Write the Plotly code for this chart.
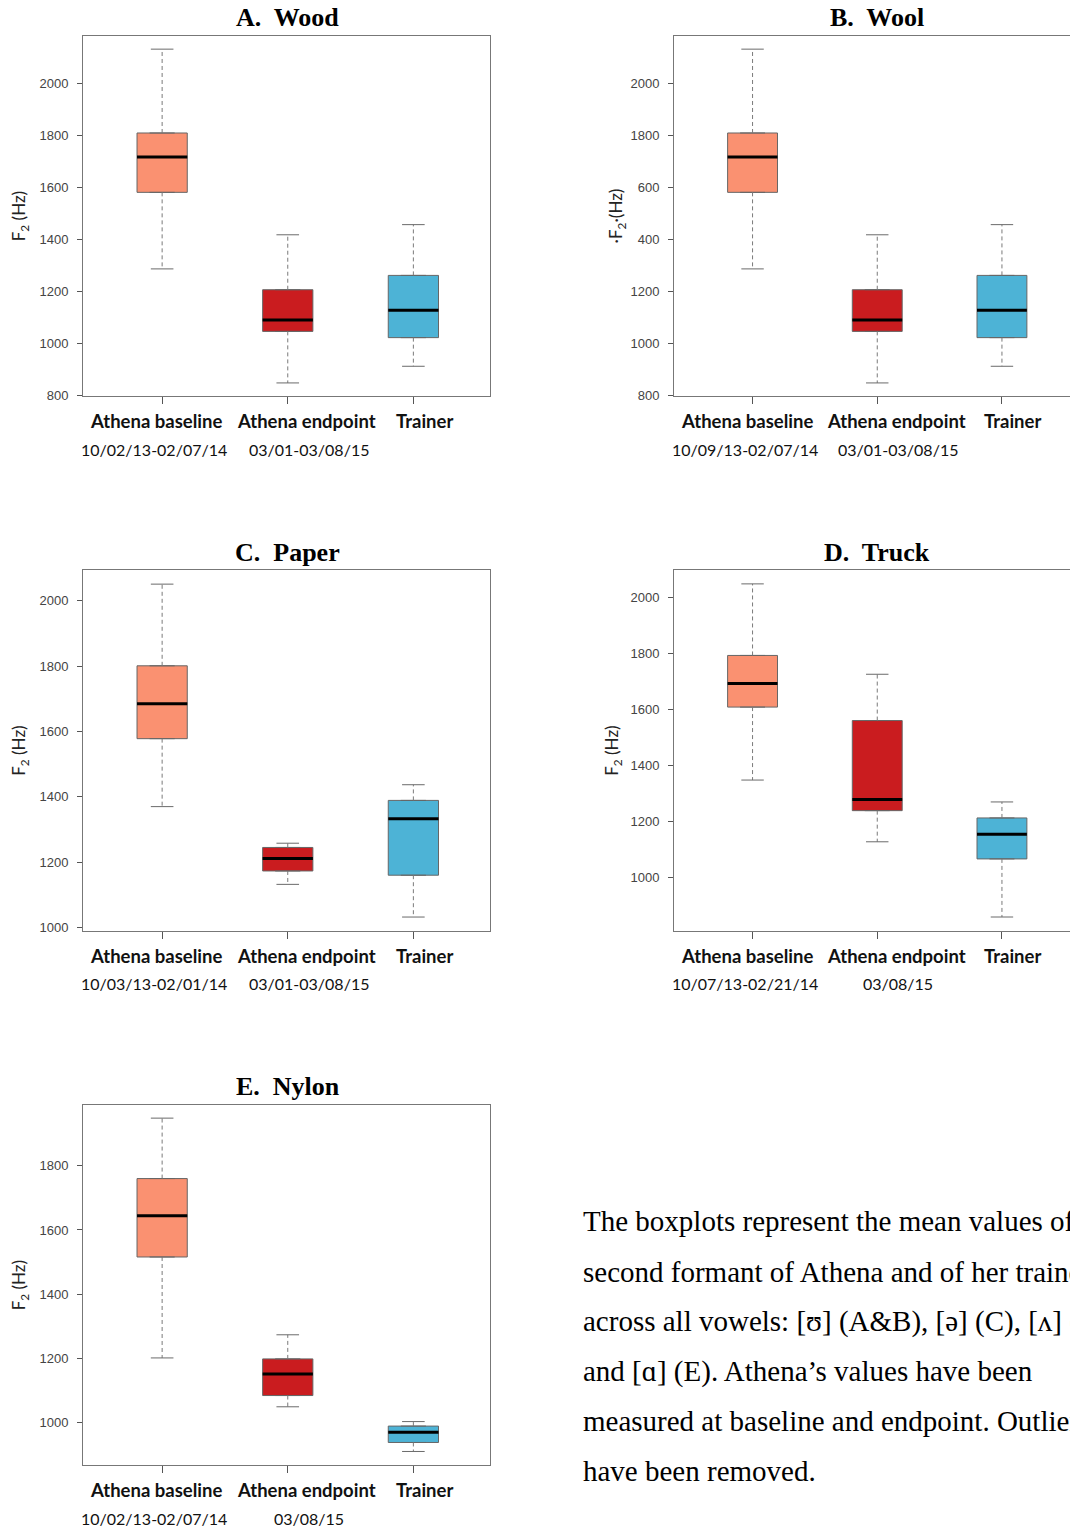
import plotly.graph_objects as go

# ---------------- data ----------------
groups = ["Athena baseline", "Athena endpoint", "Trainer"]
group_colors = ["#FA9171", "#CA1C1F", "#4DB3D6"]

panel_titles = ["A.  Wood", "B.  Wool", "C.  Paper", "D.  Truck", "E.  Nylon"]
panel_dates = [
    ["10/02/13-02/07/14", "03/01-03/08/15"],
    ["10/09/13-02/07/14", "03/01-03/08/15"],
    ["10/03/13-02/01/14", "03/01-03/08/15"],
    ["10/07/13-02/21/14", "03/08/15"],
    ["10/02/13-02/07/14", "03/08/15"],
]

# five-number summaries: [baseline, endpoint, trainer]
wood_lower = [1286, 848, 912]
wood_q1 = [1580, 1046, 1022]
wood_median = [1716, 1090, 1127]
wood_q3 = [1808, 1206, 1261]
wood_upper = [2130, 1417, 1456]

wool_lower = [1286, 848, 912]
wool_q1 = [1580, 1046, 1022]
wool_median = [1716, 1090, 1127]
wool_q3 = [1808, 1206, 1261]
wool_upper = [2130, 1417, 1456]

paper_lower = [1370, 1132, 1032]
paper_q1 = [1578, 1173, 1160]
paper_median = [1685, 1211, 1333]
paper_q3 = [1801, 1245, 1389]
paper_upper = [2051, 1258, 1437]

truck_lower = [1348, 1128, 860]
truck_q1 = [1608, 1239, 1067]
truck_median = [1692, 1279, 1155]
truck_q3 = [1792, 1560, 1213]
truck_upper = [2047, 1725, 1270]

nylon_lower = [1202, 1050, 911]
nylon_q1 = [1516, 1085, 939]
nylon_median = [1644, 1152, 971]
nylon_q3 = [1760, 1199, 990]
nylon_upper = [1948, 1274, 1004]

# y tick values / labels per panel (panel B prints truncated labels)
ab_tickvals = [800, 1000, 1200, 1400, 1600, 1800, 2000]
a_ticktext = ["800", "1000", "1200", "1400", "1600", "1800", "2000"]
b_ticktext = ["800", "1000", "1200", "400", "600", "1800", "2000"]
cd_tickvals = [1000, 1200, 1400, 1600, 1800, 2000]
cd_ticktext = ["1000", "1200", "1400", "1600", "1800", "2000"]
e_tickvals = [1000, 1200, 1400, 1600, 1800]
e_ticktext = ["1000", "1200", "1400", "1600", "1800"]

y_titles = ["F<sub>2</sub> (Hz)", "·F<sub>2</sub>·(Hz)", "F<sub>2</sub> (Hz)",
            "F<sub>2</sub> (Hz)", "F<sub>2</sub> (Hz)"]

caption_lines = [
    "The boxplots represent the mean values of the",
    "second formant of Athena and of her trainer",
    "across all vowels: [ʊ] (A&B), [ə] (C), [ʌ] (D)",
    "and [ɑ] (E). Athena’s values have been",
    "measured at baseline and endpoint. Outliers",
    "have been removed.",
]

# ---------------- layout geometry ----------------
# page places the figure at an 8px body margin; work in page pixels and shift
OFF = 8
PAGE_W, PAGE_H = 1078, 1537
W, H = PAGE_W - OFF, PAGE_H - OFF


def fx(px):
    return min(max((px - OFF) / W, 0.0), 1.0)


def fy(py):
    return min(max(1 - (py - OFF) / H, 0.0), 1.0)


panels = [
    dict(stats=(wood_lower, wood_q1, wood_median, wood_q3, wood_upper),
         xpx=(83, 490), ypx=(36, 398), yrange=(797, 2181),
         tickvals=ab_tickvals, ticktext=a_ticktext, mirror=True, standoff=12),
    dict(stats=(wool_lower, wool_q1, wool_median, wool_q3, wool_upper),
         xpx=(674, PAGE_W), ypx=(36, 398), yrange=(797, 2181),
         tickvals=ab_tickvals, ticktext=b_ticktext, mirror=False, standoff=3),
    dict(stats=(paper_lower, paper_q1, paper_median, paper_q3, paper_upper),
         xpx=(83, 490), ypx=(573, 935), yrange=(990, 2093),
         tickvals=cd_tickvals, ticktext=cd_ticktext, mirror=True, standoff=12),
    dict(stats=(truck_lower, truck_q1, truck_median, truck_q3, truck_upper),
         xpx=(674, PAGE_W), ypx=(573, 935), yrange=(811, 2095),
         tickvals=cd_tickvals, ticktext=cd_ticktext, mirror=False, standoff=7),
    dict(stats=(nylon_lower, nylon_q1, nylon_median, nylon_q3, nylon_upper),
         xpx=(83, 490), ypx=(1110, 1472), yrange=(868, 1989),
         tickvals=e_tickvals, ticktext=e_ticktext, mirror=True, standoff=12),
]

XRANGE = [-0.63, 2.61]
BOX_HALF = 0.2
CAP_HALF = 0.09
label_xshift = [-6, 19, 11]
date_xshift = [-8, 21]

fig = go.Figure()
annotations = []
layout_axes = {}

for k, p in enumerate(panels):
    n = k + 1
    xa = "x" if n == 1 else f"x{n}"
    ya = "y" if n == 1 else f"y{n}"
    lower, q1, med, q3, upper = p["stats"]
    for i, g in enumerate(groups):
        # box body
        fig.add_trace(go.Box(
            x=[i], q1=[q1[i]], median=[med[i]], q3=[q3[i]],
            lowerfence=[q1[i]], upperfence=[q3[i]],
            width=2 * BOX_HALF, fillcolor=group_colors[i],
            line=dict(color="#666666", width=1),
            boxpoints=False, xaxis=xa, yaxis=ya,
            showlegend=False, hoverinfo="skip", name=g,
        ))
        # dashed whiskers
        fig.add_trace(go.Scatter(
            x=[i, i, None, i, i], y=[q3[i], upper[i], None, q1[i], lower[i]],
            mode="lines", line=dict(color="#7a7a7a", width=1, dash="4px,3px"),
            xaxis=xa, yaxis=ya, showlegend=False, hoverinfo="skip",
        ))
        # whisker caps
        fig.add_trace(go.Scatter(
            x=[i - CAP_HALF, i + CAP_HALF, None, i - CAP_HALF, i + CAP_HALF],
            y=[upper[i], upper[i], None, lower[i], lower[i]],
            mode="lines", line=dict(color="#6a6a6a", width=1),
            xaxis=xa, yaxis=ya, showlegend=False, hoverinfo="skip",
        ))
        # median
        fig.add_trace(go.Scatter(
            x=[i - BOX_HALF, i + BOX_HALF], y=[med[i], med[i]],
            mode="lines", line=dict(color="#000000", width=3),
            xaxis=xa, yaxis=ya, showlegend=False, hoverinfo="skip",
        ))

    x0, x1 = p["xpx"]
    yt, yb = p["ypx"]
    layout_axes["xaxis" if n == 1 else f"xaxis{n}"] = dict(
        domain=[fx(x0), fx(x1)], range=XRANGE, anchor=ya,
        tickvals=[0, 1, 2], showticklabels=False, ticks="outside", ticklen=7,
        tickcolor="#555", showline=True, linecolor="#777", linewidth=1,
        mirror=True, showgrid=False, zeroline=False, fixedrange=True,
    )
    layout_axes["yaxis" if n == 1 else f"yaxis{n}"] = dict(
        domain=[fy(yb), fy(yt)], range=list(p["yrange"]), anchor=xa,
        tickvals=p["tickvals"], ticktext=p["ticktext"], ticks="outside",
        ticklen=5, tickcolor="#555", showline=True, linecolor="#777",
        linewidth=1, mirror=p["mirror"], showgrid=False, zeroline=False,
        tickfont=dict(family="Liberation Sans, Arial", size=13, color="#444"),
        ticklabelstandoff=6,
        title=dict(text=y_titles[k], standoff=p["standoff"],
                   font=dict(family="Lato, Arial", size=17, color="#222")),
        fixedrange=True,
    )

    yref_dom = f"{ya} domain"
    # panel title
    annotations.append(dict(
        text=f"<b>{panel_titles[k]}</b>", x=1, y=1, xref=xa, yref=yref_dom,
        yshift=18, xanchor="center", yanchor="middle", showarrow=False,
        font=dict(family="Liberation Serif, Times New Roman", size=26, color="#000"),
    ))
    # group labels
    for i, g in enumerate(groups):
        annotations.append(dict(
            text=f"<b>{g}</b>", x=i, y=0, xref=xa, yref=yref_dom,
            xshift=label_xshift[i], yshift=-25, xanchor="center", yanchor="middle",
            showarrow=False, font=dict(family="Lato, Arial", size=18.5, color="#111"),
        ))
    for i, d in enumerate(panel_dates[k]):
        annotations.append(dict(
            text=d, x=i, y=0, xref=xa, yref=yref_dom,
            xshift=date_xshift[i], yshift=-53, xanchor="center", yanchor="middle",
            showarrow=False, font=dict(family="Lato, Arial", size=16, color="#111"),
        ))

# caption text
caption_y_px = [1227, 1278, 1328, 1378, 1428, 1478]
for line, ypx in zip(caption_lines, caption_y_px):
    annotations.append(dict(
        text=line, x=fx(581), y=fy(ypx), xref="paper", yref="paper",
        xanchor="left", yanchor="middle", showarrow=False,
        font=dict(family="Liberation Serif, Times New Roman", size=29, color="#000"),
    ))

fig.update_layout(
    width=W, height=H, margin=dict(l=0, r=0, t=0, b=0),
    paper_bgcolor="white", plot_bgcolor="white",
    annotations=annotations, showlegend=False, **layout_axes,
)

fig.write_html("out.html")
